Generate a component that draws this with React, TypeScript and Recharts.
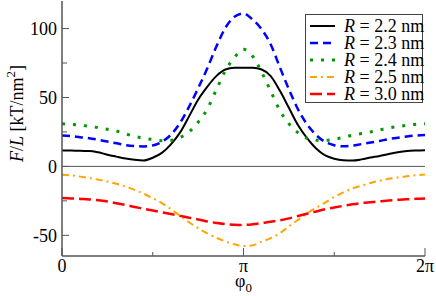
import React from 'react';
import { LineChart, Line, XAxis, YAxis, ReferenceLine, Legend } from 'recharts';

// phi0 in units of pi
const phi = [0, 0.05, 0.1, 0.15, 0.2, 0.25, 0.3, 0.35, 0.4, 0.45, 0.5, 0.55, 0.6, 0.65, 0.7, 0.75, 0.8, 0.85, 0.9, 0.95, 1.0,
  1.05, 1.1, 1.15, 1.2, 1.25, 1.3, 1.35, 1.4, 1.45, 1.5, 1.55, 1.6, 1.65, 1.7, 1.75, 1.8, 1.85, 1.9, 1.95, 2.0];

const r22 = [11.6, 11.5, 11.3, 11.2, 10.2, 8.5, 7.1, 5.8, 4.8, 4.3, 6.3, 9.8, 16, 24.5, 36.3, 48.4, 57.7, 65.5, 70.3, 71.5, 71.6,
  71.5, 70.3, 65.5, 55, 42.5, 30, 20.5, 13, 8, 5.6, 4.5, 4.3, 5.1, 6.4, 7.6, 9, 10.2, 11.1, 11.5, 11.7];
const r23 = [22.5, 22.0, 21.2, 20.5, 19.3, 18, 16.8, 15.4, 14.7, 14.5, 15.2, 17.8, 23, 31.5, 43.3, 56.7, 71, 86.8, 100.5, 108.5, 111,
  106.5, 99.5, 88.5, 72, 56, 41.5, 30.5, 22.8, 17.8, 15.4, 14.6, 15, 16.2, 17.3, 18.5, 19.8, 20.8, 21.7, 22.4, 22.8];
const r24 = [31, 30.5, 29.9, 29.1, 28.1, 26.9, 25.7, 23.6, 21.8, 20.4, 19.5, 18.7, 18.9, 21, 25, 32, 41.5, 55.5, 69.5, 79, 85,
  80, 68.3, 54.6, 40.6, 31, 24.5, 20.5, 19, 18.9, 19.7, 21, 22.6, 23.8, 25, 26.5, 27.9, 28.9, 29.8, 30.6, 31];
const r25 = [-6, -6.5, -7.4, -8.4, -9.6, -11, -12.6, -14.6, -17, -19.8, -23, -26.6, -31, -35.8, -40.5, -44.8, -48.6, -51.8, -54.4, -56.5, -57.8,
  -57.3, -54.6, -52, -48.5, -43.5, -38.8, -34.2, -30, -26.2, -22.2, -18.8, -16, -14, -12, -10.4, -9, -8, -7.2, -6.4, -5.8];
const r30 = [-23, -23.2, -23.6, -24, -24.6, -25.5, -26.7, -28, -29.4, -30.7, -32, -33.3, -34.6, -35.9, -37.2, -38.5, -39.9, -41, -41.9, -42.3, -42.5,
  -42, -41.1, -40.2, -39.1, -37.7, -36, -34.3, -32.7, -31.1, -29.8, -28.6, -27.5, -26.6, -26, -25.4, -24.7, -24.2, -23.9, -23.5, -23.3];

const xTicks = [0, 0.5, 1, 1.5, 2];
const xTickLabels: Record<string, string> = { '0': '0', '1': 'π', '2': '2π' };
const yTicks = [-50, -25, 0, 25, 50, 75, 100];
const yTickLabels: Record<string, string> = { '-50': '-50', '0': '0', '50': '50', '100': '100' };
const yDomain = [-65, 120];

const seriesNames = ['2.2', '2.3', '2.4', '2.5', '3.0'];

const data = phi.map((p, i) => ({ phi: p, r22: r22[i], r23: r23[i], r24: r24[i], r25: r25[i], r30: r30[i] }));

const FONT = "'Liberation Serif', 'DejaVu Serif', serif";
const TXT: React.CSSProperties = { fontFamily: FONT };
const AXIS = '#555';

const styles = [
  { key: 'r22', color: '#000000', dash: undefined as string | undefined, width: 2 },
  { key: 'r23', color: '#0000ff', dash: '8 5', width: 2.5 },
  { key: 'r24', color: '#009900', dash: '3 8', width: 3 },
  { key: 'r25', color: '#ffa500', dash: '7 4 2 4', width: 2 },
  { key: 'r30', color: '#ff0000', dash: '12 5', width: 2.5 },
];

const BottomTick = (props: any) => {
  const { x, y, payload } = props;
  const label = xTickLabels[String(payload.value)];
  const len = label ? 8 : 4;
  return (
    <g>
      <line x1={x} x2={x} y1={y} y2={y - len} stroke={AXIS} strokeWidth={1} />
      {label && (
        <text x={x} y={y + 16} textAnchor="middle" style={TXT} fontSize={18} fill="#000">{label}</text>
      )}
    </g>
  );
};

const TopTick = (props: any) => {
  const { x, y, payload } = props;
  const label = xTickLabels[String(payload.value)];
  const len = label ? 8 : 4;
  return <line x1={x} x2={x} y1={y} y2={y + len} stroke={AXIS} strokeWidth={1} />;
};

const LeftTick = (props: any) => {
  const { x, y, payload } = props;
  const label = yTickLabels[String(payload.value)];
  const len = label ? 7 : 5;
  return (
    <g>
      <line x1={x} x2={x + len} y1={y} y2={y} stroke={AXIS} strokeWidth={1} />
      {label && (
        <text x={x - 5} y={y} dy="0.35em" textAnchor="end" style={TXT} fontSize={18} fill="#000">{label}</text>
      )}
    </g>
  );
};

const RightTick = (props: any) => {
  const { x, y, payload } = props;
  const label = yTickLabels[String(payload.value)];
  const len = label ? 7 : 5;
  return <line x1={x} x2={x - len} y1={y} y2={y} stroke={AXIS} strokeWidth={1} />;
};

const YLabel = (props: any) => {
  const vb = props.viewBox || {};
  const cx = (vb.x || 0) + 17;
  const cy = (vb.y || 0) + (vb.height || 0) / 2 - 15;
  return (
    <text x={cx} y={cy} transform={`rotate(-90 ${cx} ${cy})`} textAnchor="middle" dy="0.35em" style={TXT} fontSize={18} fill="#000">
      <tspan fontStyle="italic">F</tspan>
      <tspan>/</tspan>
      <tspan fontStyle="italic">L</tspan>
      <tspan> [kT/nm</tspan>
      <tspan fontSize={13} dy={-8}>2</tspan>
      <tspan dy={8}>]</tspan>
    </text>
  );
};

const XLabel = (props: any) => {
  const vb = props.viewBox || {};
  const cx = (vb.x || 0) + (vb.width || 0) / 2;
  const cy = (vb.y || 0) + 31;
  return (
    <text x={cx} y={cy} textAnchor="middle" style={TXT} fontSize={18} fill="#000">
      <tspan>φ</tspan>
      <tspan fontSize={13} dy={5}>0</tspan>
    </text>
  );
};

const LegendBox = () => {
  const rows = [12, 29, 46, 63, 80];
  return (
    <div style={{ width: 118, height: 89, border: `1px solid #444`, background: '#fff', boxSizing: 'border-box' }}>
      <svg width={124} height={87} style={{ display: 'block', overflow: 'visible' }}>
        {styles.map((s, i) => (
          <g key={s.key}>
            <line x1={4} x2={29} y1={rows[i] - 1} y2={rows[i] - 1} stroke={s.color} strokeWidth={s.width} strokeDasharray={s.dash} />
            <text x={38} y={rows[i] - 1} dy="0.35em" style={TXT} fontSize={18} fill="#000">
              <tspan fontStyle="italic">R</tspan>
              <tspan>{` = ${seriesNames[i]} nm`}</tspan>
            </text>
          </g>
        ))}
      </svg>
    </div>
  );
};

export default function App() {
  return (
    <div style={{ position: 'absolute', left: 0, top: 0, width: 436, height: 296, background: '#fff', fontFamily: FONT }}>
      <LineChart width={436} height={296} data={data} margin={{ top: 1, right: 11, left: 0, bottom: 0 }}>
        <XAxis
          dataKey="phi"
          type="number"
          domain={[0, 2]}
          ticks={xTicks}
          interval={0}
          tickSize={0}
          tickMargin={0}
          tickLine={false}
          tick={<BottomTick />}
          axisLine={{ stroke: AXIS, strokeWidth: 1.5 }}
          height={40}
          allowDataOverflow
          label={<XLabel />}
        />
        <XAxis
          xAxisId="top"
          orientation="top"
          type="number"
          dataKey="phi"
          domain={[0, 2]}
          ticks={xTicks}
          interval={0}
          tickSize={0}
          tickMargin={0}
          tickLine={false}
          tick={<TopTick />}
          axisLine={{ stroke: AXIS, strokeWidth: 1.5 }}
          height={0}
          allowDataOverflow
        />
        <YAxis
          type="number"
          domain={yDomain}
          ticks={yTicks}
          interval={0}
          tickSize={0}
          tickMargin={0}
          tickLine={false}
          tick={<LeftTick />}
          axisLine={{ stroke: AXIS, strokeWidth: 1.5 }}
          width={62}
          allowDataOverflow
          label={<YLabel />}
        />
        <YAxis
          yAxisId="right"
          orientation="right"
          type="number"
          domain={yDomain}
          ticks={yTicks}
          interval={0}
          tickSize={0}
          tickMargin={0}
          tickLine={false}
          tick={<RightTick />}
          axisLine={{ stroke: AXIS, strokeWidth: 1.5 }}
          width={0}
          allowDataOverflow
        />
        <ReferenceLine y={0} stroke={AXIS} strokeWidth={1} />
        {styles.map((s) => (
          <Line
            key={s.key}
            type="monotone"
            dataKey={s.key}
            stroke={s.color}
            strokeWidth={s.width}
            strokeDasharray={s.dash}
            dot={false}
            activeDot={false}
            isAnimationActive={false}
          />
        ))}
        <Legend
          layout="vertical"
          align="center"
          verticalAlign="middle"
          content={<LegendBox />}
          wrapperStyle={{ top: 14, left: 305, width: 118, height: 89 }}
        />
      </LineChart>
    </div>
  );
}
